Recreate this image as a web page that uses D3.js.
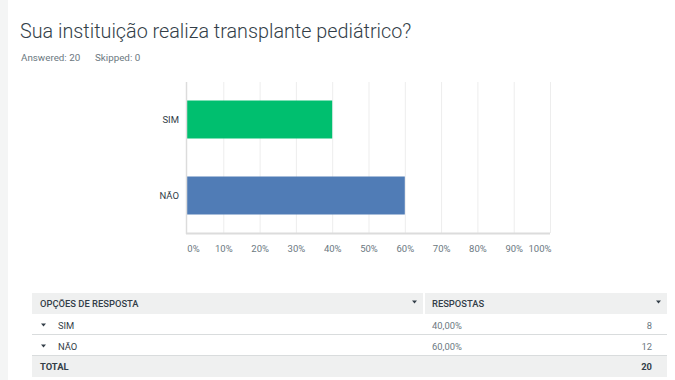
<!DOCTYPE html>
<html><head><meta charset="utf-8">
<script src="https://cdn.jsdelivr.net/npm/d3@7"></script>
<style>
html,body{margin:0;padding:0;background:#fff;}
svg{display:block;font-family:Roboto, "Open Sans", sans-serif;}
</style></head>
<body>
<svg id="c" width="675" height="380"></svg>
<script>
const title = "Sua instituição realiza transplante pediátrico?";
const answered = 20, skipped = 0;
const categories = ["SIM", "NÃO"];
const percents = [0.40, 0.60];
const counts = [8, 12];
const ticks = [0,0.1,0.2,0.3,0.4,0.5,0.6,0.7,0.8,0.9,1.0];
const tickLabels = ["0%","10%","20%","30%","40%","50%","60%","70%","80%","90%","100%"];
const pctLabels = ["40,00%","60,00%"];
const colors = ["#00bf6f","#507cb6"];

const svg = d3.select("#c");
svg.append("rect").attr("x",0).attr("y",0).attr("width",8).attr("height",380).attr("fill","#f4f5f5");

svg.append("text").attr("x",20).attr("y",38).attr("font-size",19.8).attr("font-weight",300)
  .attr("fill","#333e48").text(title);
svg.append("text").attr("x",21).attr("y",61).attr("font-size",9.8).attr("fill","#6b787f")
  .text("Answered: " + answered);
svg.append("text").attr("x",95).attr("y",61).attr("font-size",9.8).attr("fill","#6b787f")
  .text("Skipped: " + skipped);

const x = d3.scaleLinear().domain([0,1]).range([187,550]);
const y = d3.scaleBand().domain(categories).range([81.5,233.5]).paddingInner(0.5).paddingOuter(0.25);

// grid
svg.append("g").selectAll("line").data(ticks.slice(1)).join("line")
  .attr("x1",d=>x(d)+0.5).attr("x2",d=>x(d)+0.5).attr("y1",82).attr("y2",233)
  .attr("stroke","#ededed").attr("stroke-width",1);

// bars
svg.append("g").selectAll("rect").data(categories).join("rect")
  .attr("x",x(0)).attr("y",d=>y(d)).attr("width",(d,i)=>x(percents[i])-x(0))
  .attr("height",y.bandwidth()).attr("fill",(d,i)=>colors[i]);

// axes lines
svg.append("line").attr("x1",186.5).attr("x2",186.5).attr("y1",82).attr("y2",234)
  .attr("stroke","#dcdcdc").attr("stroke-width",1.5);
svg.append("line").attr("x1",186).attr("x2",550).attr("y1",233.5).attr("y2",233.5)
  .attr("stroke","#dcdcdc").attr("stroke-width",2);

// x axis labels
const xa = svg.append("g").attr("transform","translate(0,242)")
  .call(d3.axisBottom(x).tickValues(ticks).tickSize(0).tickFormat((d,i)=>tickLabels[i]));
xa.select(".domain").remove();
xa.selectAll("text").attr("font-family","Roboto, sans-serif").attr("font-size",9.5).attr("fill","#6b787f")
  .attr("dy","0.71em")
  .attr("text-anchor",(d,i)=> i===ticks.length-1 ? "end" : "middle")
  .attr("dx",(d,i)=> i===ticks.length-1 ? 1 : (i===0 ? 6 : 0));

// y axis labels
const ya = svg.append("g").attr("transform","translate(182,0)")
  .call(d3.axisLeft(y).tickSize(0));
ya.select(".domain").remove();
ya.selectAll("text").attr("font-family","Roboto, sans-serif").attr("font-size",9.5).attr("fill","#333e48");

// table
const tL = 32, tR = 667, tMid = 424;
const tri = "M-2.5,-1.5L2.5,-1.5L0,1.5Z";
const hdr = svg.append("g");
hdr.append("rect").attr("x",tL).attr("y",293).attr("width",tMid-tL-1).attr("height",21).attr("fill","#eff0f0");
hdr.append("rect").attr("x",tMid+1).attr("y",293).attr("width",tR-tMid-1).attr("height",21).attr("fill","#eff0f0");
hdr.append("text").attr("x",40).attr("y",307).attr("font-size",9.4).attr("font-weight",500).attr("fill","#333e48").text("OPÇÕES DE RESPOSTA");
hdr.append("text").attr("x",432).attr("y",307).attr("font-size",9.4).attr("font-weight",500).attr("fill","#333e48").text("RESPOSTAS");
hdr.append("path").attr("d",tri).attr("transform","translate(414.5,302)").attr("fill","#333e48");
hdr.append("path").attr("d",tri).attr("transform","translate(658.5,302)").attr("fill","#333e48");

const rowY = d3.scaleBand().domain(categories).range([314,356]);
const rows = svg.append("g").selectAll("g").data(categories).join("g")
  .attr("transform",d=>`translate(0,${rowY(d)})`);
rows.append("line").attr("x1",tL).attr("x2",tR).attr("y1",rowY.bandwidth()-0.5).attr("y2",rowY.bandwidth()-0.5)
  .attr("stroke","#d9dcdd").attr("stroke-width",1);
rows.append("path").attr("d",tri).attr("transform","translate(43.5,11)").attr("fill","#333e48");
rows.append("text").attr("x",58).attr("y",14.5).attr("font-size",9.4).attr("fill","#333e48").text(d=>d);
rows.append("text").attr("x",432).attr("y",14.5).attr("font-size",9.4).attr("fill","#6b787f").text((d,i)=>pctLabels[i]);
rows.append("text").attr("x",652).attr("y",14.5).attr("font-size",9.4).attr("fill","#6b787f").attr("text-anchor","end").text((d,i)=>counts[i]);

const tot = svg.append("g");
tot.append("rect").attr("x",tL).attr("y",356).attr("width",tR-tL).attr("height",21).attr("fill","#eff0f0");
tot.append("text").attr("x",40).attr("y",370).attr("font-size",9.4).attr("font-weight",700).attr("fill","#333e48").text("TOTAL");
tot.append("text").attr("x",652).attr("y",370).attr("font-size",9.4).attr("font-weight",700).attr("fill","#333e48").attr("text-anchor","end").text(d3.sum(counts));
</script>
</body></html>
